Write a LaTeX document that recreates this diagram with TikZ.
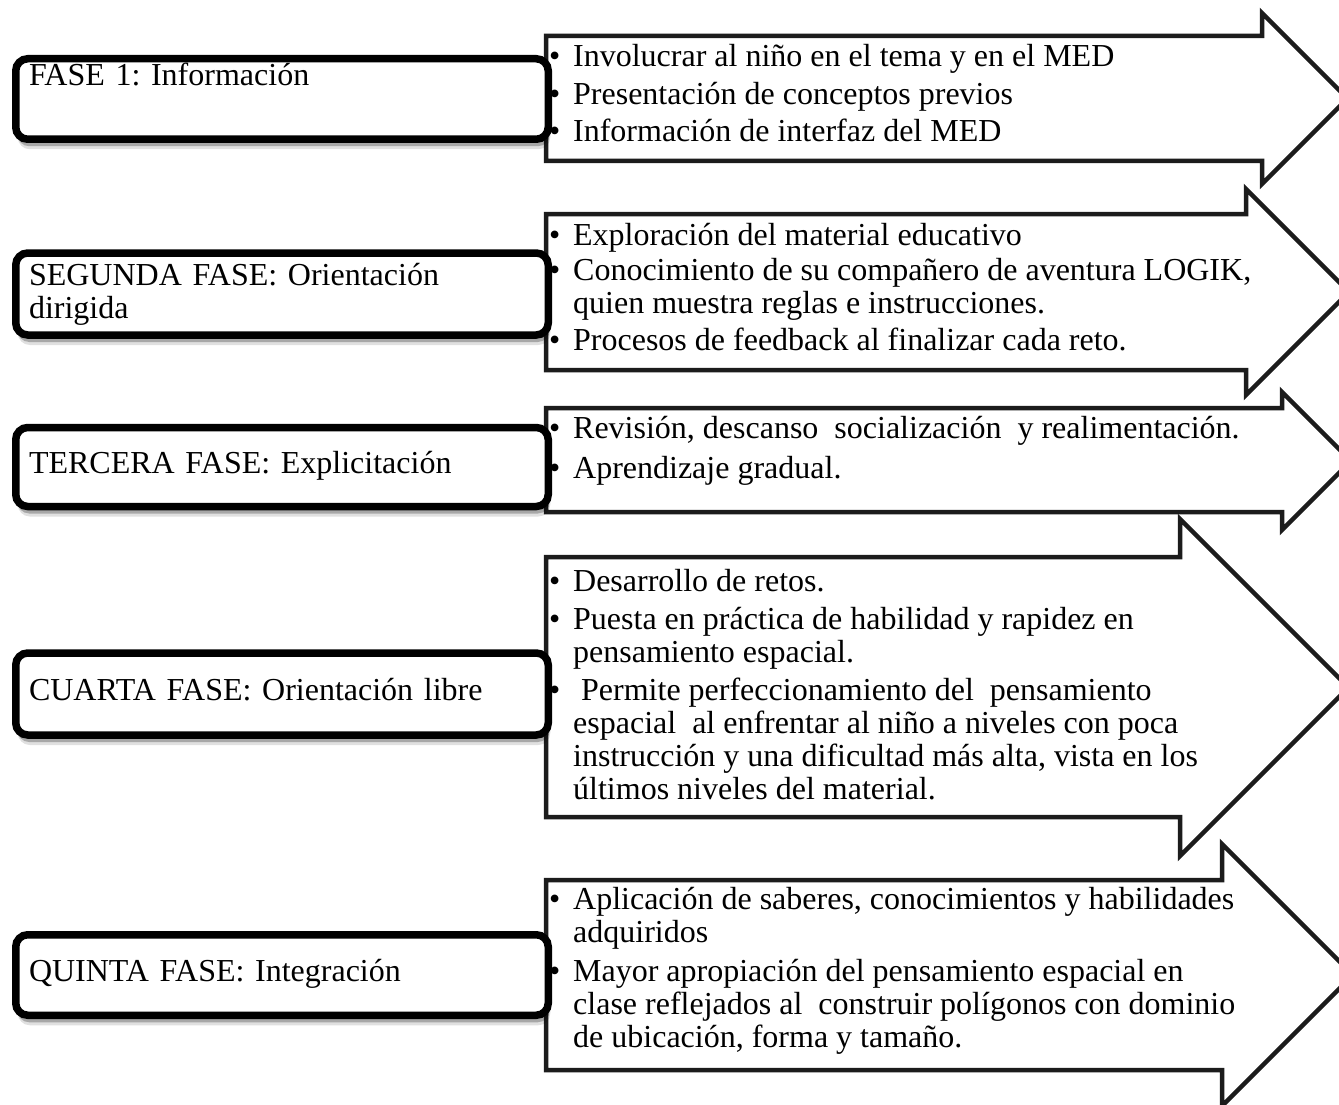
\documentclass[tikz,border=0pt]{standalone}
\usepackage{fontspec}
\setmainfont{Liberation Serif}
\usetikzlibrary{shadows}
\definecolor{arrowink}{HTML}{1C1C1C}
\newcommand\bul{\makebox[24pt][l]{\textbullet}}
\newcommand\hin{\hspace*{24pt}}
\newcommand\fst{\rule{0pt}{26pt}}
\frenchspacing
\tikzset{
  arrowshape/.style={draw=arrowink, line width=4.5pt, fill=white, line join=miter, miter limit=20},
  phasebox/.style={draw=black, line width=7.5pt, rounded corners=12pt, fill=white,
    align=left, text width=506pt, inner xsep=13pt, inner ysep=0pt,
    minimum width=532.5pt, font=\fontsize{32}{33}\selectfont\frenchspacing,
    drop shadow={shadow xshift=2pt, shadow yshift=-10pt, opacity=0.12, fill=black},
    drop shadow={shadow xshift=1.5pt, shadow yshift=-7pt, opacity=0.25, fill=black}},
  onel/.style={text height=22pt, text depth=10pt},
  itemtext/.style={align=left, anchor=north west, inner sep=0pt, font=\fontsize{32}{33}\selectfont\frenchspacing}
}
\begin{document}
\begin{tikzpicture}[x=1pt,y=-1pt]
\useasboundingbox (0,0) rectangle (1339,1105);
\clip (0,0) rectangle (1339,1105);
\fill[white] (0,0) rectangle (1339,1105);

% arrows
\draw[arrowshape] (546,36) -- (1262,36) -- (1262,13) -- (1347.5,98.5) -- (1262,184) -- (1262,161) -- (546,161) -- cycle;
\draw[arrowshape] (546,214) -- (1246,214) -- (1246,189) -- (1349,292) -- (1246,395) -- (1246,370) -- (546,370) -- cycle;
\draw[arrowshape] (546,408) -- (1282,408) -- (1282,392) -- (1351,461) -- (1282,530) -- (1282,512) -- (546,512) -- cycle;
\draw[arrowshape] (546,557) -- (1180,557) -- (1180,519) -- (1348.5,687.5) -- (1180,856) -- (1180,817) -- (546,817) -- cycle;
\draw[arrowshape] (546,880) -- (1222,880) -- (1222,844) -- (1353,975) -- (1222,1106) -- (1222,1070) -- (546,1070) -- cycle;

% phase boxes
\node[phasebox, minimum height=80.5pt, text height=22pt, text depth=48pt] (p1) at (282,99) {FASE 1: Información};
\node[phasebox, minimum height=82pt] (p2) at (282,294) {SEGUNDA FASE: Orientación\\dirigida};
\node[phasebox, minimum height=79pt, onel] (p3) at (282,467) {TERCERA FASE: Explicitación};
\node[phasebox, minimum height=82pt, onel] (p4) at (282,694) {CUARTA FASE: Orientación libre};
\node[phasebox, minimum height=80.5pt, onel] (p5) at (282,975) {QUINTA FASE: Integración};

% arrow texts
\node[itemtext] (t1) at (549,40) {\fst\bul Involucrar al niño en el tema y en el MED\\[5pt]
\bul Presentación de conceptos previos\\[4pt]
\bul Información de interfaz del MED};
\node[itemtext] (t2) at (549,219) {\fst\bul Exploración del material educativo\\[2pt]
\bul Conocimiento de su compañero de aventura LOGIK,\\
\hin quien muestra reglas e instrucciones.\\[4pt]
\bul Procesos de feedback al finalizar cada reto.};
\node[itemtext] (t3) at (549,412) {\fst\bul Revisión, descanso\ \ socialización\ \ y realimentación.\\[7pt]
\bul Aprendizaje gradual.};
\node[itemtext] (t4) at (549,565) {\fst\bul Desarrollo de retos.\\[5pt]
\bul Puesta en práctica de habilidad y rapidez en\\
\hin pensamiento espacial.\\[5pt]
\bul\ Permite perfeccionamiento del\ \ pensamiento\\
\hin espacial\ \ al enfrentar al niño a niveles con poca\\
\hin instrucción y una dificultad más alta, vista en los\\
\hin últimos niveles del material.};
\node[itemtext] (t5) at (549,883) {\fst\bul Aplicación de saberes, conocimientos y habilidades\\
\hin adquiridos\\[6pt]
\bul Mayor apropiación del pensamiento espacial en\\
\hin clase reflejados al\ \ construir polígonos con dominio\\
\hin de ubicación, forma y tamaño.};
\end{tikzpicture}
\end{document}
